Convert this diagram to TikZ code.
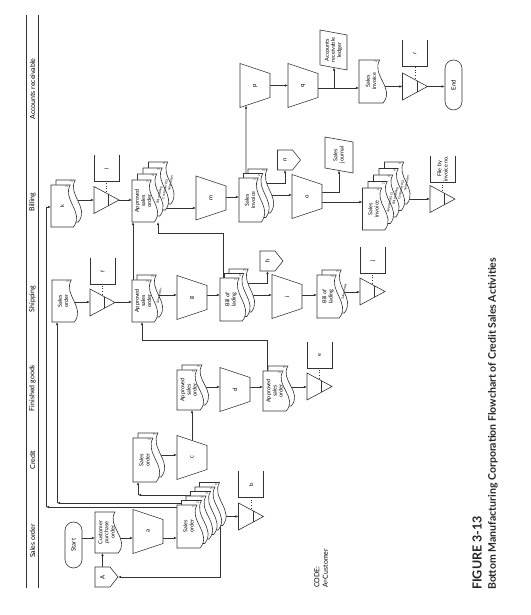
\documentclass[tikz,border=0pt]{standalone}
\usepackage{fontspec}
\setmainfont{Lato}
\usetikzlibrary{calc,arrows.meta}
\pgfdeclarelayer{bg}
\pgfsetlayers{bg,main}
\tikzset{
  shp/.style={draw=black!80, fill=white, line width=0.6pt},
  box/.style={inner sep=0pt, outer sep=0pt},
  doctxt/.style={font=\fontsize{5.5}{6.1}\selectfont, align=center, inner sep=0pt},
  lbl/.style={font=\fontsize{6}{7}\selectfont},
  cpy/.style={font=\fontsize{3.2}{3.5}\selectfont, inner sep=0pt, rotate=-12},
  dig/.style={font=\fontsize{3}{3}\selectfont, inner sep=0pt},
  con/.style={draw=black!80, line width=0.55pt},
  arr/.style={con, -{Latex[length=3.2pt,width=2.6pt]}},
  dots/.style={draw=black!80, line width=0.7pt, dotted},
  hdr/.style={font=\fontsize{7}{8}\selectfont, inner sep=0pt},
}
% document outline: cx cy w h
\newcommand\docpath[4]{%
  \filldraw[shp] ({#1-#3/2},{#2+#4/2}) -- ({#1+#3/2},{#2+#4/2}) -- ({#1+#3/2},{#2+#4/2-0.74*#4})
   .. controls ({#1+0.15*#3},{#2+#4/2-0.42*#4}) and ({#1-0.15*#3},{#2+#4/2-1.3*#4}) .. ({#1-#3/2},{#2+#4/2-0.86*#4}) -- cycle;}
% document (stack): name cx cy w h nback text digit
\newcommand\fcdoc[8]{%
  \ifnum#6>0
    \foreach \k in {#6,...,1}{%
      \docpath{#2+\k*\sdx}{#3-\k*\sdy}{#4}{#5}%
      \node[dig] at ({#2+\k*\sdx+#4/2-2},{#3-\k*\sdy+#5/2-0.6*#5}) {\number\numexpr#8+\k\relax};%
    }%
  \fi
  \docpath{#2}{#3}{#4}{#5}
  \node[dig] at ({#2+#4/2-2},{#3+#5/2-0.6*#5}) {#8};
  \node[box, minimum width=#4, minimum height=#5] (#1) at (#2,#3) {};
  \node[doctxt] at (#2,{#3+2}) {#7};
  \coordinate (#1-last) at ({#2+#6*\sdx},{#3-#6*\sdy});
}
% manual operation: name cx cy label
\newcommand\fctrap[4]{%
  \filldraw[shp] ({#2-22},{#3+15}) -- ({#2+22},{#3+15}) -- ({#2+12},{#3-15}) -- ({#2-12},{#3-15}) -- cycle;
  \node[box, lbl, minimum width=44, minimum height=30] (#1) at (#2,#3) {#4};
  \coordinate (#1-tl) at ({#2-22},{#3+15});
  \coordinate (#1-bl) at ({#2-12},{#3-15});
}
% off-page connector: name cx cy(rect centre) label
\newcommand\fcoff[4]{%
  \filldraw[shp] ({#2-10},{#3+7.5}) -- ({#2+10},{#3+7.5}) -- ({#2+10},{#3-7.5}) -- (#2,{#3-15.5}) -- ({#2-10},{#3-7.5}) -- cycle;
  \node[box, lbl, minimum width=20, minimum height=15] (#1) at (#2,#3) {#4};
  \coordinate (#1-tip) at (#2,{#3-15.5});
}
% file triangle: name cx cy
\newcommand\fctri[3]{%
  \filldraw[shp] ({#2-13.5},{#3+12.5}) -- ({#2+13.5},{#3+12.5}) -- (#2,{#3-12.5}) -- cycle;
  \draw[shp] ({#2-5.7},{#3-2}) -- ({#2+5.7},{#3-2});
  \node[box, minimum width=27, minimum height=25] (#1) at (#2,#3) {};
}
% annotation bracket: name cx cy text
\newcommand\fcnote[4]{%
  \draw[shp, fill=none] ({#2+13},{#3+12.5}) -- ({#2-13},{#3+12.5}) -- ({#2-13},{#3-12.5}) -- ({#2+13},{#3-12.5});
  \node[box, doctxt, minimum width=26, minimum height=25] (#1) at (#2,#3) {#4};
}
% parallelogram: name cx cy w h text
\newcommand\fcpara[6]{%
  \filldraw[shp] ({#2-#4/2+2.5},{#3+#5/2}) -- ({#2+#4/2+2.5},{#3+#5/2}) -- ({#2+#4/2-2.5},{#3-#5/2}) -- ({#2-#4/2-2.5},{#3-#5/2}) -- cycle;
  \node[box, doctxt, minimum width=#4, minimum height=#5] (#1) at (#2,#3) {#6};
}
\begin{document}
\begin{tikzpicture}[x=1pt,y=1pt]
\begin{scope}[rotate=90, transform shape]
\begin{pgfonlayer}{bg}
\fill[white] (0,0) rectangle (615,-530);
\end{pgfonlayer}
\useasboundingbox (0,0) rectangle (615,-530);

% lane header
\draw[con] (27,-26.5) -- (600,-26.5);
\draw[con] (27,-38.5) -- (600,-38.5);
\node[hdr] (L1) at (74,-32.5) {Sales order};
\node[hdr] (L2) at (155,-32.5) {Credit};
\node[hdr] (L3) at (227,-32.5) {Finished goods};
\node[hdr] (L4) at (316,-32.5) {Shipping};
\node[hdr] (L5) at (413,-32.5) {Billing};
\node[hdr] (L6) at (526,-32.5) {Accounts receivable};

% Sales order lane
\node[shp, rounded corners=8.5pt, minimum width=46, minimum height=17, inner sep=0pt, lbl] (start) at (70,-73.5) {Start};
\def\sdx{5}\def\sdy{5}
\fcdoc{cpo}{82.5}{-108.5}{41}{27}{0}{Customer\\purchase\\order}{}
\fcoff{A}{38}{-102.5}{A}
\fctrap{a}{83.5}{-148}{a}
\def\sdx{4.5}\def\sdy{4.5}
\fcdoc{so}{88.5}{-190.5}{43}{27}{5}{Sales\\order}{1}
\fctri{trib}{98.5}{-251}
\fcnote{nb}{130.5}{-251}{b}

% Credit
\def\sdx{5}\def\sdy{5}
\fcdoc{crso}{155}{-146.5}{44}{27}{1}{Sales\\order}{2}
\fctrap{c}{157.5}{-192}{c}

% Finished goods
\fcdoc{fg1}{225}{-190.5}{40}{27}{1}{Approved\\sales\\order}{2}
\fctrap{d}{225.5}{-235}{d}
\fcdoc{fg2}{224}{-276.5}{40}{27}{1}{Approved\\sales\\order}{2}
\fctri{trie}{228.5}{-319.5}
\fcnote{ne}{260}{-319.5}{e}

% Shipping
\fcdoc{shso}{314}{-65}{42}{26}{0}{Sales\\order}{1}
\fctri{trif}{312.5}{-102.5}
\fcnote{nf}{343.5}{-102.5}{f}
\fcdoc{shas}{314}{-145}{42}{26}{1}{Approved\\sales\\order}{2}
\node[cpy] at (319,-159) {Sales order};
\fctrap{g}{317.5}{-192}{g}
\def\sdx{4.5}\def\sdy{4.5}
\fcdoc{bol}{315.5}{-233}{43}{26}{2}{Bill of\\lading}{1}
\fcoff{h}{354}{-267.5}{h}
\fctrap{i}{318.5}{-287}{i}
\def\sdx{5}\def\sdy{5}
\fcdoc{bol2}{318.5}{-330}{43}{26}{1}{Bill of\\lading}{2}
\node[cpy] at (323.5,-344) {Sales order};
\fctri{trij}{323.5}{-372.5}
\fcnote{nj}{354.5}{-372.5}{j}

% Billing
\fcdoc{k}{409}{-64}{42}{26}{1}{k}{2}
\fctri{tril}{415}{-106.5}
\fcnote{nl}{446.5}{-106.5}{l}
\def\sdx{6}\def\sdy{5.5}
\fcdoc{bill}{414}{-145}{42}{26}{3}{Approved\\sales\\order}{1}
\node[cpy] at (420,-159.5) {Bill of lading};
\node[cpy] at (426,-165) {Customer P.O.};
\node[cpy] at (432,-170.5) {Sales order};
\fctrap{m}{417}{-211}{m}
\def\sdx{4.5}\def\sdy{4.5}
\fcdoc{si}{415}{-252}{44}{26}{2}{Sales\\invoice}{1}
\fcoff{n}{455}{-285}{n}
\fctrap{o}{418.5}{-307}{o}
\fcpara{sj}{460}{-339}{31}{28}{Sales\\journal}
\def\sdx{6.5}\def\sdy{5.5}
\fcdoc{si2}{406}{-375.5}{42}{26}{4}{Sales\\invoice}{1}
\node[cpy] at (412.5,-390) {Approved S.O.};
\node[cpy] at (419,-395.5) {Bill of lading};
\node[cpy] at (425.5,-401) {Customer P.O.};
\node[cpy] at (432,-406.5) {Sales order};
\fctri{triv}{416}{-442.5}
\fcnote{nv}{446}{-442.5}{File by\\invoice no.}

% Accounts receivable
\fctrap{p}{529.5}{-255}{p}
\fctrap{q}{529.5}{-303}{q}
\fcpara{led}{565}{-333.5}{35}{27}{Accounts\\receivable\\ledger}
\def\sdx{5}\def\sdy{5}
\fcdoc{ars}{533.5}{-373}{43}{28}{0}{Sales\\invoice}{2}
\fctri{trir}{528.5}{-415}
\fcnote{nr}{561.5}{-415}{r}
\node[shp, rounded corners=8.5pt, minimum width=50, minimum height=17, inner sep=0pt, lbl] (end) at (530,-453.5) {End};

% texts
\node[anchor=north west, align=left, inner sep=0pt, font=\fontsize{7}{8.5}\selectfont] (code) at (27,-314) {CODE:\\A=Customer};
\node[anchor=west, inner sep=0pt, font=\bfseries\fontsize{12.5}{14}\selectfont, text=black!85] (fig) at (25,-477) {FIGURE 3-13};
\node[anchor=west, inner sep=0pt, font=\bfseries\fontsize{10.5}{12}\selectfont, text=black!85] (cap) at (25,-493) {Bottom Manufacturing Corporation Flowchart of Credit Sales Activities};

% columns and bends
\coordinate (colA) at (77,0);
\coordinate (colC) at (160,0);
\coordinate (colF) at (228,0);
\coordinate (colS1) at (313,0);
\coordinate (colS2) at (320,0);
\coordinate (colS3) at (323,0);
\coordinate (colB) at (415,0);
\coordinate (colB2) at (407,0);
\coordinate (colB3) at (418,0);
\coordinate (colB4) at (420,0);
\coordinate (colB5) at (413,0);
\coordinate (colR) at (527,0);
\coordinate (so-c0) at (120,-200);
\coordinate (so-c1) at (120,-138);
\coordinate (so-s0) at (112,-200);
\coordinate (so-s1) at (112,-57);
\coordinate (so-b0) at (108,-195);
\coordinate (so-b1) at (108,-46);
\coordinate (so-b2) at (408,-46);
\coordinate (fs1) at (275,-267);
\coordinate (fs2) at (275,-142);
\coordinate (bb0) at (330,-223);
\coordinate (bb1) at (382,-223);
\coordinate (bb2) at (382,-158);
\coordinate (hb) at (332,-245);
\coordinate (nb0) at (432,-265);
\coordinate (qb) at (527,-334);
\coordinate (pL) at ($(p-tl)!0.2!(p-bl)$);

\begin{pgfonlayer}{bg}
% sales order lane
\draw[arr] (start.south -| colA) -- (cpo.north -| colA);
\draw[arr] (A.east) -- (A.east -| cpo.west);
\draw[arr] (cpo.center -| colA) -- (a.north -| colA);
\draw[arr] (a.center -| colA) -- (so.north -| colA);
\draw[arr] (so-last -| trib) -- (trib.north);
\draw[arr] ($(so-last)+(0,-7)$) -| (A-tip);
\draw[arr] (so-c0) -- (so-c1);
\draw[arr] (so-c1) -- (so-c1 -| crso.west);
\draw[arr] (so-s0) -- (so-s1);
\draw[arr] (so-s1) -- (so-s1 -| shso.west);
\draw[arr] (so-b0) -- (so-b1);
\draw[arr] (so-b1) -- (so-b2) -- (k.north -| so-b2);
\draw[dots] (trib.center) -- (trib.center -| nb.west);
% credit
\draw[arr] (crso.center -| colC) -- (c.north -| colC);
\draw[arr] (c.center) -- (c.center -| fg1.west);
% finished goods
\draw[arr] (fg1.center -| colF) -- (d.north -| colF);
\draw[arr] (d.center -| colF) -- (fg2.north -| colF);
\draw[arr] (fg2.center -| colF) -- (trie.north -| colF);
\draw[arr] ($(fg2.center)+(0,9.5)$) -- (fs1) -- (fs2) -- (fs2 -| shas.west);
\draw[dots] (trie.center) -- (trie.center -| ne.west);
% shipping
\draw[arr] (shso.center -| colS1) -- (trif.north -| colS1);
\draw[arr] (trif.center -| colS1) -- (shas.north -| colS1);
\draw[dots] (trif.center) -- (trif.center -| nf.west);
\draw[arr] ($(shas.center)+(0,12)$) -- ($(bill.west)+(0,12)$);
\draw[arr] (shas.center -| colS2) -- (g.north -| colS2);
\draw[arr] (g.center -| colS2) -- (bol.north -| colS2);
\draw[arr] (bol-last -| colS2) -- (i.north -| colS2);
\draw[arr] (hb) |- (h.west);
\draw[arr] (bb0) -- (bb1) -- (bb2) -- (bill.south west);
\draw[arr] (i.center -| colS2) -- (bol2.north -| colS2);
\draw[arr] (bol2.center -| colS3) -- (trij.north -| colS3);
\draw[dots] (trij.center) -- (trij.center -| nj.west);
% billing
\draw[arr] (k.center -| colB) -- (tril.north -| colB);
\draw[arr] (tril.center -| colB) -- (bill.north -| colB);
\draw[dots] (tril.center) -- (tril.center -| nl.west);
\draw[arr] (bill.center -| colB2) -- (m.north -| colB2);
\draw[arr] (m.center -| colB3) -- (si.north -| colB3);
\draw[arr] ($(si.center)+(0,6)$) -- (pL);
\draw[arr] (nb0) |- (n.west);
\draw[arr] (si-last -| colB4) -- (o.north -| colB4);
\draw[arr] ($(o.center)+(4.5,0)$) |- (sj.west);
\draw[arr] (o.center -| colB5) -- (si2.north -| colB5);
\draw[arr] (si2-last -| triv) -- (triv.north);
\draw[dots] (triv.center) -- (triv.center -| nv.west);
% accounts receivable
\draw[arr] (p.center) -- (q.north);
\draw[arr] (q.center -| colR) -- (ars.north -| colR);
\draw[arr] (qb) -- (qb -| led.west);
\draw[arr] (ars.center -| trir) -- (trir.north);
\draw[dots] (trir.center) -- (trir.center -| nr.west);
\draw[arr] (trir.center) -- (trir.center |- end.north);
\end{pgfonlayer}
\end{scope}
\end{tikzpicture}
\end{document}
